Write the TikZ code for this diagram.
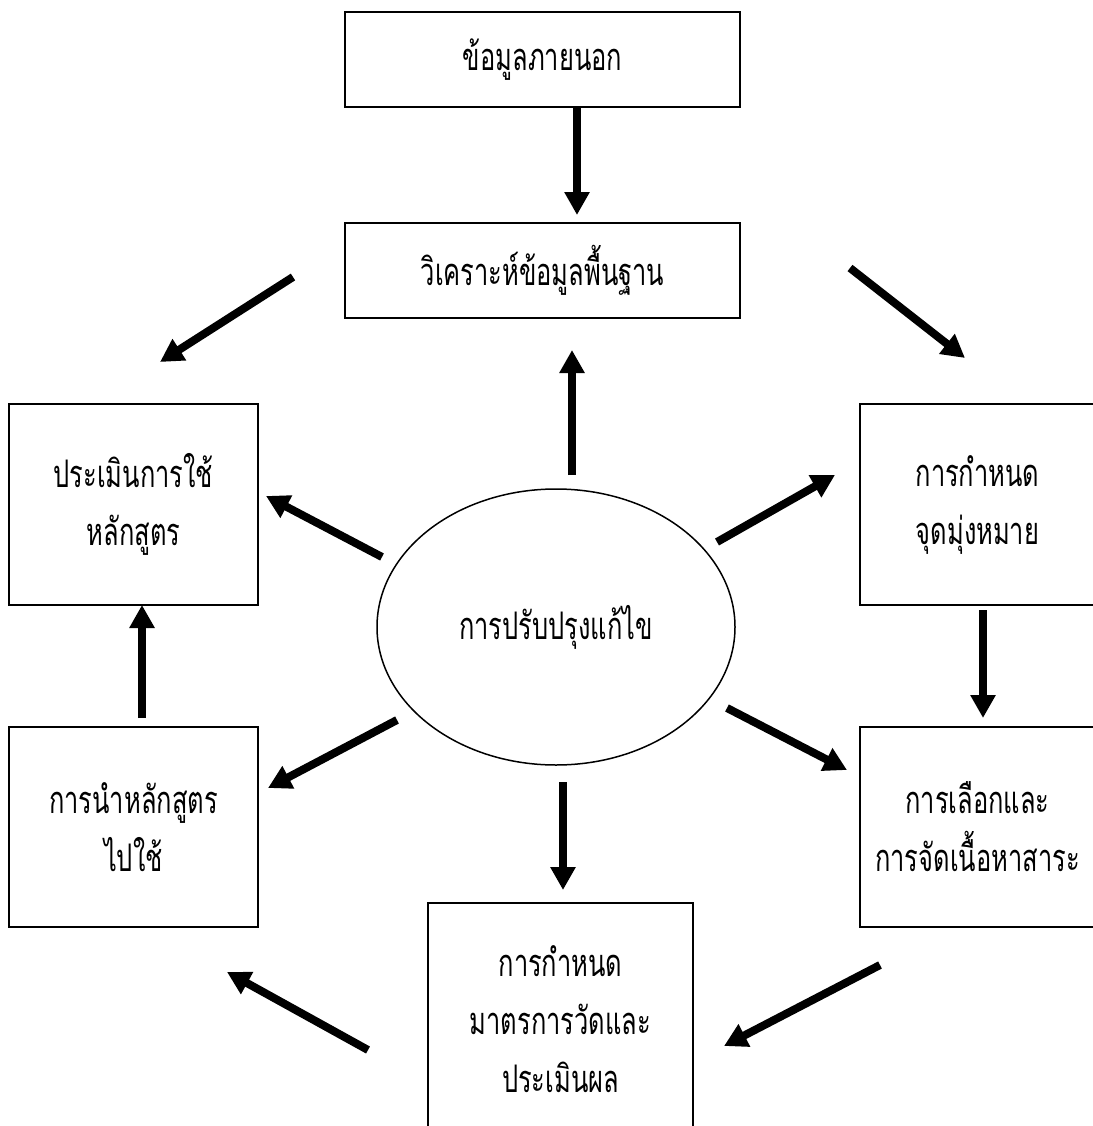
\documentclass[tikz,border=0pt]{standalone}
\usepackage{fontspec}
\newfontfamily\thaifont[Script=Thai,FakeStretch=0.67]{Loma}
\usetikzlibrary{arrows.meta,shapes.geometric}

\begin{document}
\begin{tikzpicture}[x=1pt,y=-1pt,
  thai/.style={font=\thaifont\fontsize{38}{58}\selectfont},
  box/.style={draw, line width=1.5pt, rectangle, inner sep=0pt, align=center, thai},
  hub/.style={draw, line width=1.5pt, ellipse, inner sep=0pt, align=center, thai},
  flow/.style={line width=8pt, -{Triangle[length=23pt,width=24pt]}},
]
\useasboundingbox[fill=white] (0,0) rectangle (1092,1126);

% boxes of the curriculum cycle
\node[box, minimum width=395pt, minimum height=95pt]  (ext)   at (542.5,59.5)  {\raisebox{3pt}{ข้อมูลภายนอก}};
\node[box, minimum width=395pt, minimum height=95pt]  (base)  at (542.5,270.5) {\raisebox{3pt}{วิเคราะห์ข้อมูลพื้นฐาน}};
\node[box, minimum width=249pt, minimum height=201pt] (eval)  at (133.5,504.5) {ประเมินการใช้\\หลักสูตร};
\node[box, minimum width=235pt, minimum height=201pt] (goal)  at (977.5,504.5) {การกำหนด\\จุดมุ่งหมาย};
\node[box, minimum width=249pt, minimum height=200pt] (use)   at (133.5,827)   {การนำหลักสูตร\\ไปใช้};
\node[box, minimum width=235pt, minimum height=200pt] (cont)  at (977.5,827)   {การเลือกและ\\การจัดเนื้อหาสาระ};
\node[box, minimum width=265pt, minimum height=232pt] (meas)  at (560.5,1019)  {การกำหนด\\มาตรการวัดและ\\ประเมินผล};

% central ellipse
\node[hub, minimum width=358pt, minimum height=276pt] (fix) at (556,627) {การปรับปรุงแก้ไข};

% arrow end points
\coordinate (a1s) at (577,107);  \coordinate (a1e) at (577,215);
\coordinate (a2s) at (293,277);  \coordinate (a2e) at (160,362);
\coordinate (a3s) at (850,268);  \coordinate (a3e) at (965,358);
\coordinate (a4s) at (572,475);  \coordinate (a4e) at (572,350);
\coordinate (a5s) at (382,557);  \coordinate (a5e) at (266,496);
\coordinate (a6s) at (717,542);  \coordinate (a6e) at (835,475);
\coordinate (a7s) at (983,610);  \coordinate (a7e) at (983,718);
\coordinate (a8s) at (727,708);  \coordinate (a8e) at (847,770);
\coordinate (a9s) at (397,720);  \coordinate (a9e) at (268,788);
\coordinate (a10s) at (142,718); \coordinate (a10e) at (142,605);
\coordinate (a11s) at (563,782); \coordinate (a11e) at (563,890);
\coordinate (a12s) at (880,965); \coordinate (a12e) at (724,1046);
\coordinate (a13s) at (368,1050);\coordinate (a13e) at (227,972);

% arrows
\draw[flow] (a1s) -- (a1e);
\draw[flow] (a2s) -- (a2e);
\draw[flow] (a3s) -- (a3e);
\draw[flow] (a4s) -- (a4e);
\draw[flow] (a5s) -- (a5e);
\draw[flow] (a6s) -- (a6e);
\draw[flow] (a7s) -- (a7e);
\draw[flow] (a8s) -- (a8e);
\draw[flow] (a9s) -- (a9e);
\draw[flow] (a10s) -- (a10e);
\draw[flow] (a11s) -- (a11e);
\draw[flow] (a12s) -- (a12e);
\draw[flow] (a13s) -- (a13e);
\end{tikzpicture}
\end{document}
